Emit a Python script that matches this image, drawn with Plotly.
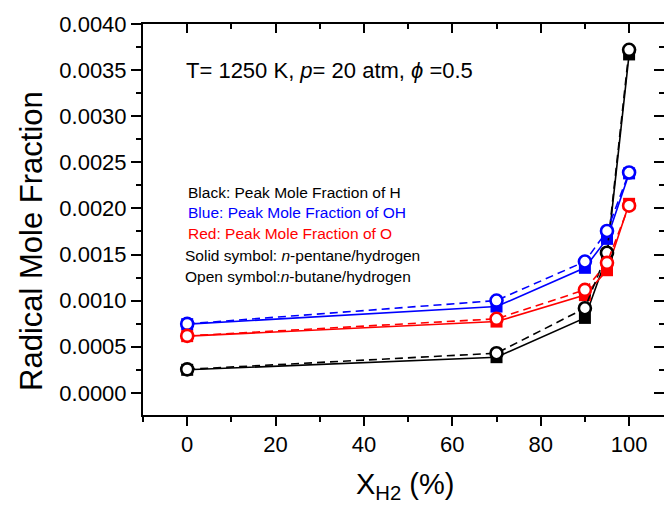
import plotly.graph_objects as go

# Hydrogen fraction in the fuel blend (%)
x_h2 = [0, 70, 90, 95, 100]

# Peak radical mole fractions, n-pentane/hydrogen (solid symbols)
pent_h = [0.000250, 0.000387, 0.000813, 0.001480, 0.003670]
pent_oh = [0.000745, 0.000936, 0.001356, 0.001670, 0.002380]
pent_o = [0.000615, 0.000773, 0.001060, 0.001330, 0.002050]

# Peak radical mole fractions, n-butane/hydrogen (open symbols)
but_h = [0.000255, 0.000430, 0.000918, 0.001520, 0.003720]
but_oh = [0.000748, 0.001001, 0.001424, 0.001755, 0.002390]
but_o = [0.000618, 0.000803, 0.001117, 0.001410, 0.002030]

y_ticks = [0.0000, 0.0005, 0.0010, 0.0015, 0.0020, 0.0025, 0.0030, 0.0035, 0.0040]
x_ticks = [0, 20, 40, 60, 80, 100]

BLACK, BLUE, RED = "#000000", "#0000FF", "#FF0000"
FONT = "Arial, Liberation Sans, sans-serif"

fig = go.Figure()

# n-pentane/hydrogen: filled squares joined by solid lines
for ys, c in [(pent_h, BLACK), (pent_oh, BLUE), (pent_o, RED)]:
    fig.add_trace(go.Scatter(
        x=x_h2, y=ys, mode="lines+markers",
        line=dict(color=c, width=1.6),
        marker=dict(symbol="square", size=12, color=c, line=dict(width=0)),
        showlegend=False,
    ))

# n-butane/hydrogen: open circles joined by dashed lines
for ys, c in [(but_h, BLACK), (but_oh, BLUE), (but_o, RED)]:
    fig.add_trace(go.Scatter(
        x=x_h2, y=ys, mode="lines+markers",
        line=dict(color=c, width=1.6, dash="8px,5px"),
        marker=dict(symbol="circle", size=12, color="white", line=dict(color=c, width=2.6)),
        showlegend=False,
    ))

# invisible trace that brings the top/right mirror axes into existence
fig.add_trace(go.Scatter(x=[None], y=[None], xaxis="x2", yaxis="y2",
                         mode="markers", showlegend=False, hoverinfo="skip"))

XR = [-10, 107.9]
YR = [-0.00024, 0.0040]

fig.update_layout(
    width=664, height=506,
    margin=dict(l=143, r=0, t=24, b=91),
    paper_bgcolor="white", plot_bgcolor="white",
    font=dict(family=FONT, color="black"),
    xaxis=dict(
        range=XR, tickvals=x_ticks, ticks="outside", ticklen=9, tickwidth=1.8,
        tickcolor="black", showline=True, linecolor="black", linewidth=2,
        showgrid=False, zeroline=False, tickfont=dict(size=22, family=FONT),
        minor=dict(dtick=10, tick0=0, ticks="outside", ticklen=5, tickwidth=1.8,
                   tickcolor="black", showgrid=False),
    ),
    xaxis2=dict(
        range=XR, overlaying="x", side="top", tickvals=x_ticks, ticks="inside",
        ticklen=9, tickwidth=1.8, tickcolor="black", showline=True,
        linecolor="black", linewidth=2, showgrid=False, zeroline=False,
        showticklabels=False,
        minor=dict(dtick=10, tick0=0, ticks="inside", ticklen=5, tickwidth=1.8,
                   tickcolor="black", showgrid=False),
    ),
    yaxis=dict(
        range=YR, tickvals=y_ticks, tickformat=".4f", ticks="outside",
        ticklen=10, tickwidth=1.8, tickcolor="black", showline=True,
        linecolor="black", linewidth=2, showgrid=False, zeroline=False,
        tickfont=dict(size=22, family=FONT),
        minor=dict(dtick=0.00025, tick0=0, ticks="outside", ticklen=5,
                   tickwidth=1.8, tickcolor="black", showgrid=False),
    ),
    yaxis2=dict(
        range=YR, overlaying="y", side="right", tickvals=y_ticks,
        ticks="inside", ticklen=10, tickwidth=1.8, tickcolor="black",
        showline=True, linecolor="black", linewidth=2, showgrid=False,
        zeroline=False, showticklabels=False,
        minor=dict(dtick=0.00025, tick0=0, ticks="inside", ticklen=5,
                   tickwidth=1.8, tickcolor="black", showgrid=False),
    ),
)

# axis titles
fig.add_annotation(
    text="Radical Mole Fraction", textangle=-90, xref="paper", yref="paper",
    x=-0.215, y=0.445, xanchor="center", yanchor="middle", showarrow=False,
    font=dict(size=31, family=FONT, color="black"),
)
fig.add_annotation(
    text="X<sub>H2</sub> (%)", xref="paper", yref="paper",
    x=0.503, y=-0.13, xanchor="center", yanchor="top", showarrow=False,
    font=dict(size=29, family=FONT, color="black"),
)

# condition label and key
fig.add_annotation(
    text="T= 1250 K, <i>p</i>= 20 atm, <i>\u03d5</i> =0.5", xref="paper", yref="paper",
    x=0.078, y=0.882, xanchor="left", yanchor="middle", showarrow=False,
    font=dict(size=22, family=FONT, color="black"),
)
key_lines = [
    ("Black: Peak Mole Fraction of H", BLACK, 0.082, 0.570),
    ("Blue: Peak Mole Fraction of OH", BLUE, 0.082, 0.517),
    ("Red: Peak Mole Fraction of O", RED, 0.082, 0.465),
    ("Solid symbol: <i>n</i>-pentane/hydrogen", BLACK, 0.076, 0.409),
    ("Open symbol:<i>n</i>-butane/hydrogen", BLACK, 0.076, 0.355),
]
for txt, c, kx, ky in key_lines:
    fig.add_annotation(
        text=txt, xref="paper", yref="paper", x=kx, y=ky,
        xanchor="left", yanchor="middle", showarrow=False,
        font=dict(size=15.5, family=FONT, color=c),
    )

fig.write_html("out.html")
